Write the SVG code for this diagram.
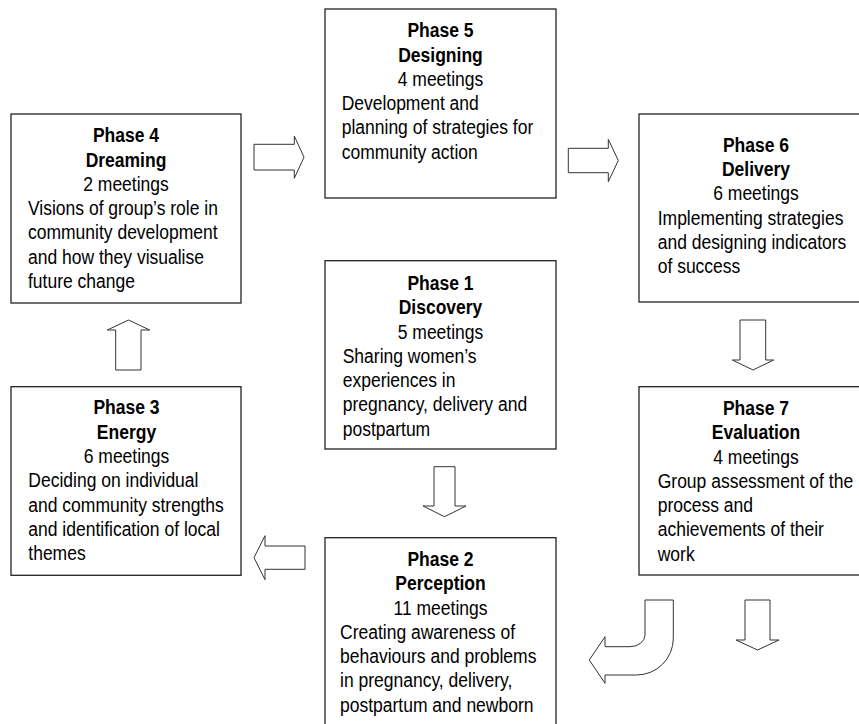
<svg xmlns="http://www.w3.org/2000/svg" width="859" height="724" viewBox="0 0 859 724">
<style>
.box{fill:#fff;stroke:#222;stroke-width:1.3}
.arr{fill:#fff;stroke:#333;stroke-width:1}
text{font-family:"Liberation Sans",Arial,Helvetica,sans-serif;font-size:20px;fill:#000}
.c{text-anchor:middle}
.b{font-weight:bold}
</style>
<rect width="859" height="724" fill="#fff"/>
<g id="connectors">
<path class="arr" d="M254,144.3 H294.3 V136 L304,157.2 L294.3,178.3 V170 H254 Z"/>
<path class="arr" d="M568.3,148.3 H608.3 V139.3 L618.3,160.5 L608.3,181.7 V172.7 H568.3 Z"/>
<path class="arr" d="M740,320 V360 H732.3 L753,370 L773.7,360 H765.7 V320 Z"/>
<path class="arr" d="M434,466.7 V506 H423 L444.5,516.7 L466,506 H455 V466.7 Z"/>
<path class="arr" d="M305,546 H265 V535.7 L254,557.7 L265,579.7 V569.3 H305 Z"/>
<path class="arr" d="M115.7,370 V330 H107.3 L128.5,320 L149.7,330 H141 V370 Z"/>
<path class="arr" d="M745,600 V640 H736 L757.5,650 L779,640 H770 V600 Z"/>
<path class="arr" d="M645,600 H673.3 V638.3 A36.7,36.7 0 0 1 636.7,675 H605 V683.3 L589.3,660 L605,636.7 V646.7 H630 A15,11.7 0 0 0 645,635 Z"/>
</g>
<g id="phase4">
<rect class="box" x="11" y="114" width="230" height="189"/>
<text class="c" transform="translate(126 0) scale(0.875 1)"><tspan class="b" x="0" y="142.3">Phase 4</tspan><tspan class="b" x="0" y="166.6">Dreaming</tspan><tspan x="0" y="190.9">2 meetings</tspan></text>
<text transform="translate(28 0) scale(0.875 1)"><tspan x="0" y="215.2">Visions of group’s role in</tspan><tspan x="0" y="239.5">community development</tspan><tspan x="0" y="263.8">and how they visualise</tspan><tspan x="0" y="288.1">future change</tspan></text>
</g>
<g id="phase5">
<rect class="box" x="325" y="9" width="231" height="189"/>
<text class="c" transform="translate(440.5 0) scale(0.875 1)"><tspan class="b" x="0" y="37.3">Phase 5</tspan><tspan class="b" x="0" y="61.6">Designing</tspan><tspan x="0" y="85.9">4 meetings</tspan></text>
<text transform="translate(341.7 0) scale(0.875 1)"><tspan x="0" y="110.2">Development and</tspan><tspan x="0" y="134.5">planning of strategies for</tspan><tspan x="0" y="158.8">community action</tspan></text>
</g>
<g id="phase6">
<rect class="box" x="639" y="114" width="234" height="188"/>
<text class="c" transform="translate(756 0) scale(0.875 1)"><tspan class="b" x="0" y="151.7">Phase 6</tspan><tspan class="b" x="0" y="176">Delivery</tspan><tspan x="0" y="200.3">6 meetings</tspan></text>
<text transform="translate(657.7 0) scale(0.875 1)"><tspan x="0" y="224.6">Implementing strategies</tspan><tspan x="0" y="248.9">and designing indicators</tspan><tspan x="0" y="273.2">of success</tspan></text>
</g>
<g id="phase1">
<rect class="box" x="325" y="260.7" width="231" height="188.3"/>
<text class="c" transform="translate(440.5 0) scale(0.875 1)"><tspan class="b" x="0" y="290">Phase 1</tspan><tspan class="b" x="0" y="314.3">Discovery</tspan><tspan x="0" y="338.6">5 meetings</tspan></text>
<text transform="translate(342.7 0) scale(0.875 1)"><tspan x="0" y="362.9">Sharing women’s</tspan><tspan x="0" y="387.2">experiences in</tspan><tspan x="0" y="411.5">pregnancy, delivery and</tspan><tspan x="0" y="435.8">postpartum</tspan></text>
</g>
<g id="phase3">
<rect class="box" x="11" y="386.7" width="230" height="188.6"/>
<text class="c" transform="translate(126.5 0) scale(0.875 1)"><tspan class="b" x="0" y="414.5">Phase 3</tspan><tspan class="b" x="0" y="438.8">Energy</tspan><tspan x="0" y="463.1">6 meetings</tspan></text>
<text transform="translate(28.3 0) scale(0.875 1)"><tspan x="0" y="487.4">Deciding on individual</tspan><tspan x="0" y="511.7">and community strengths</tspan><tspan x="0" y="536">and identification of local</tspan><tspan x="0" y="560.3">themes</tspan></text>
</g>
<g id="phase7">
<rect class="box" x="639" y="386.7" width="234" height="188.3"/>
<text class="c" transform="translate(756 0) scale(0.875 1)"><tspan class="b" x="0" y="415">Phase 7</tspan><tspan class="b" x="0" y="439.3">Evaluation</tspan><tspan x="0" y="463.6">4 meetings</tspan></text>
<text transform="translate(657.7 0) scale(0.875 1)"><tspan x="0" y="487.9">Group assessment of the</tspan><tspan x="0" y="512.2">process and</tspan><tspan x="0" y="536.5">achievements of their</tspan><tspan x="0" y="560.8">work</tspan></text>
</g>
<g id="phase2">
<rect class="box" x="325" y="537.7" width="231" height="200"/>
<text class="c" transform="translate(440.5 0) scale(0.875 1)"><tspan class="b" x="0" y="566">Phase 2</tspan><tspan class="b" x="0" y="590.3">Perception</tspan><tspan x="0" y="614.6">11 meetings</tspan></text>
<text transform="translate(340 0) scale(0.875 1)"><tspan x="0" y="638.9">Creating awareness of</tspan><tspan x="0" y="663.2">behaviours and problems</tspan><tspan x="0" y="687.5">in pregnancy, delivery,</tspan><tspan x="0" y="711.8">postpartum and newborn</tspan></text>
</g>
</svg>
